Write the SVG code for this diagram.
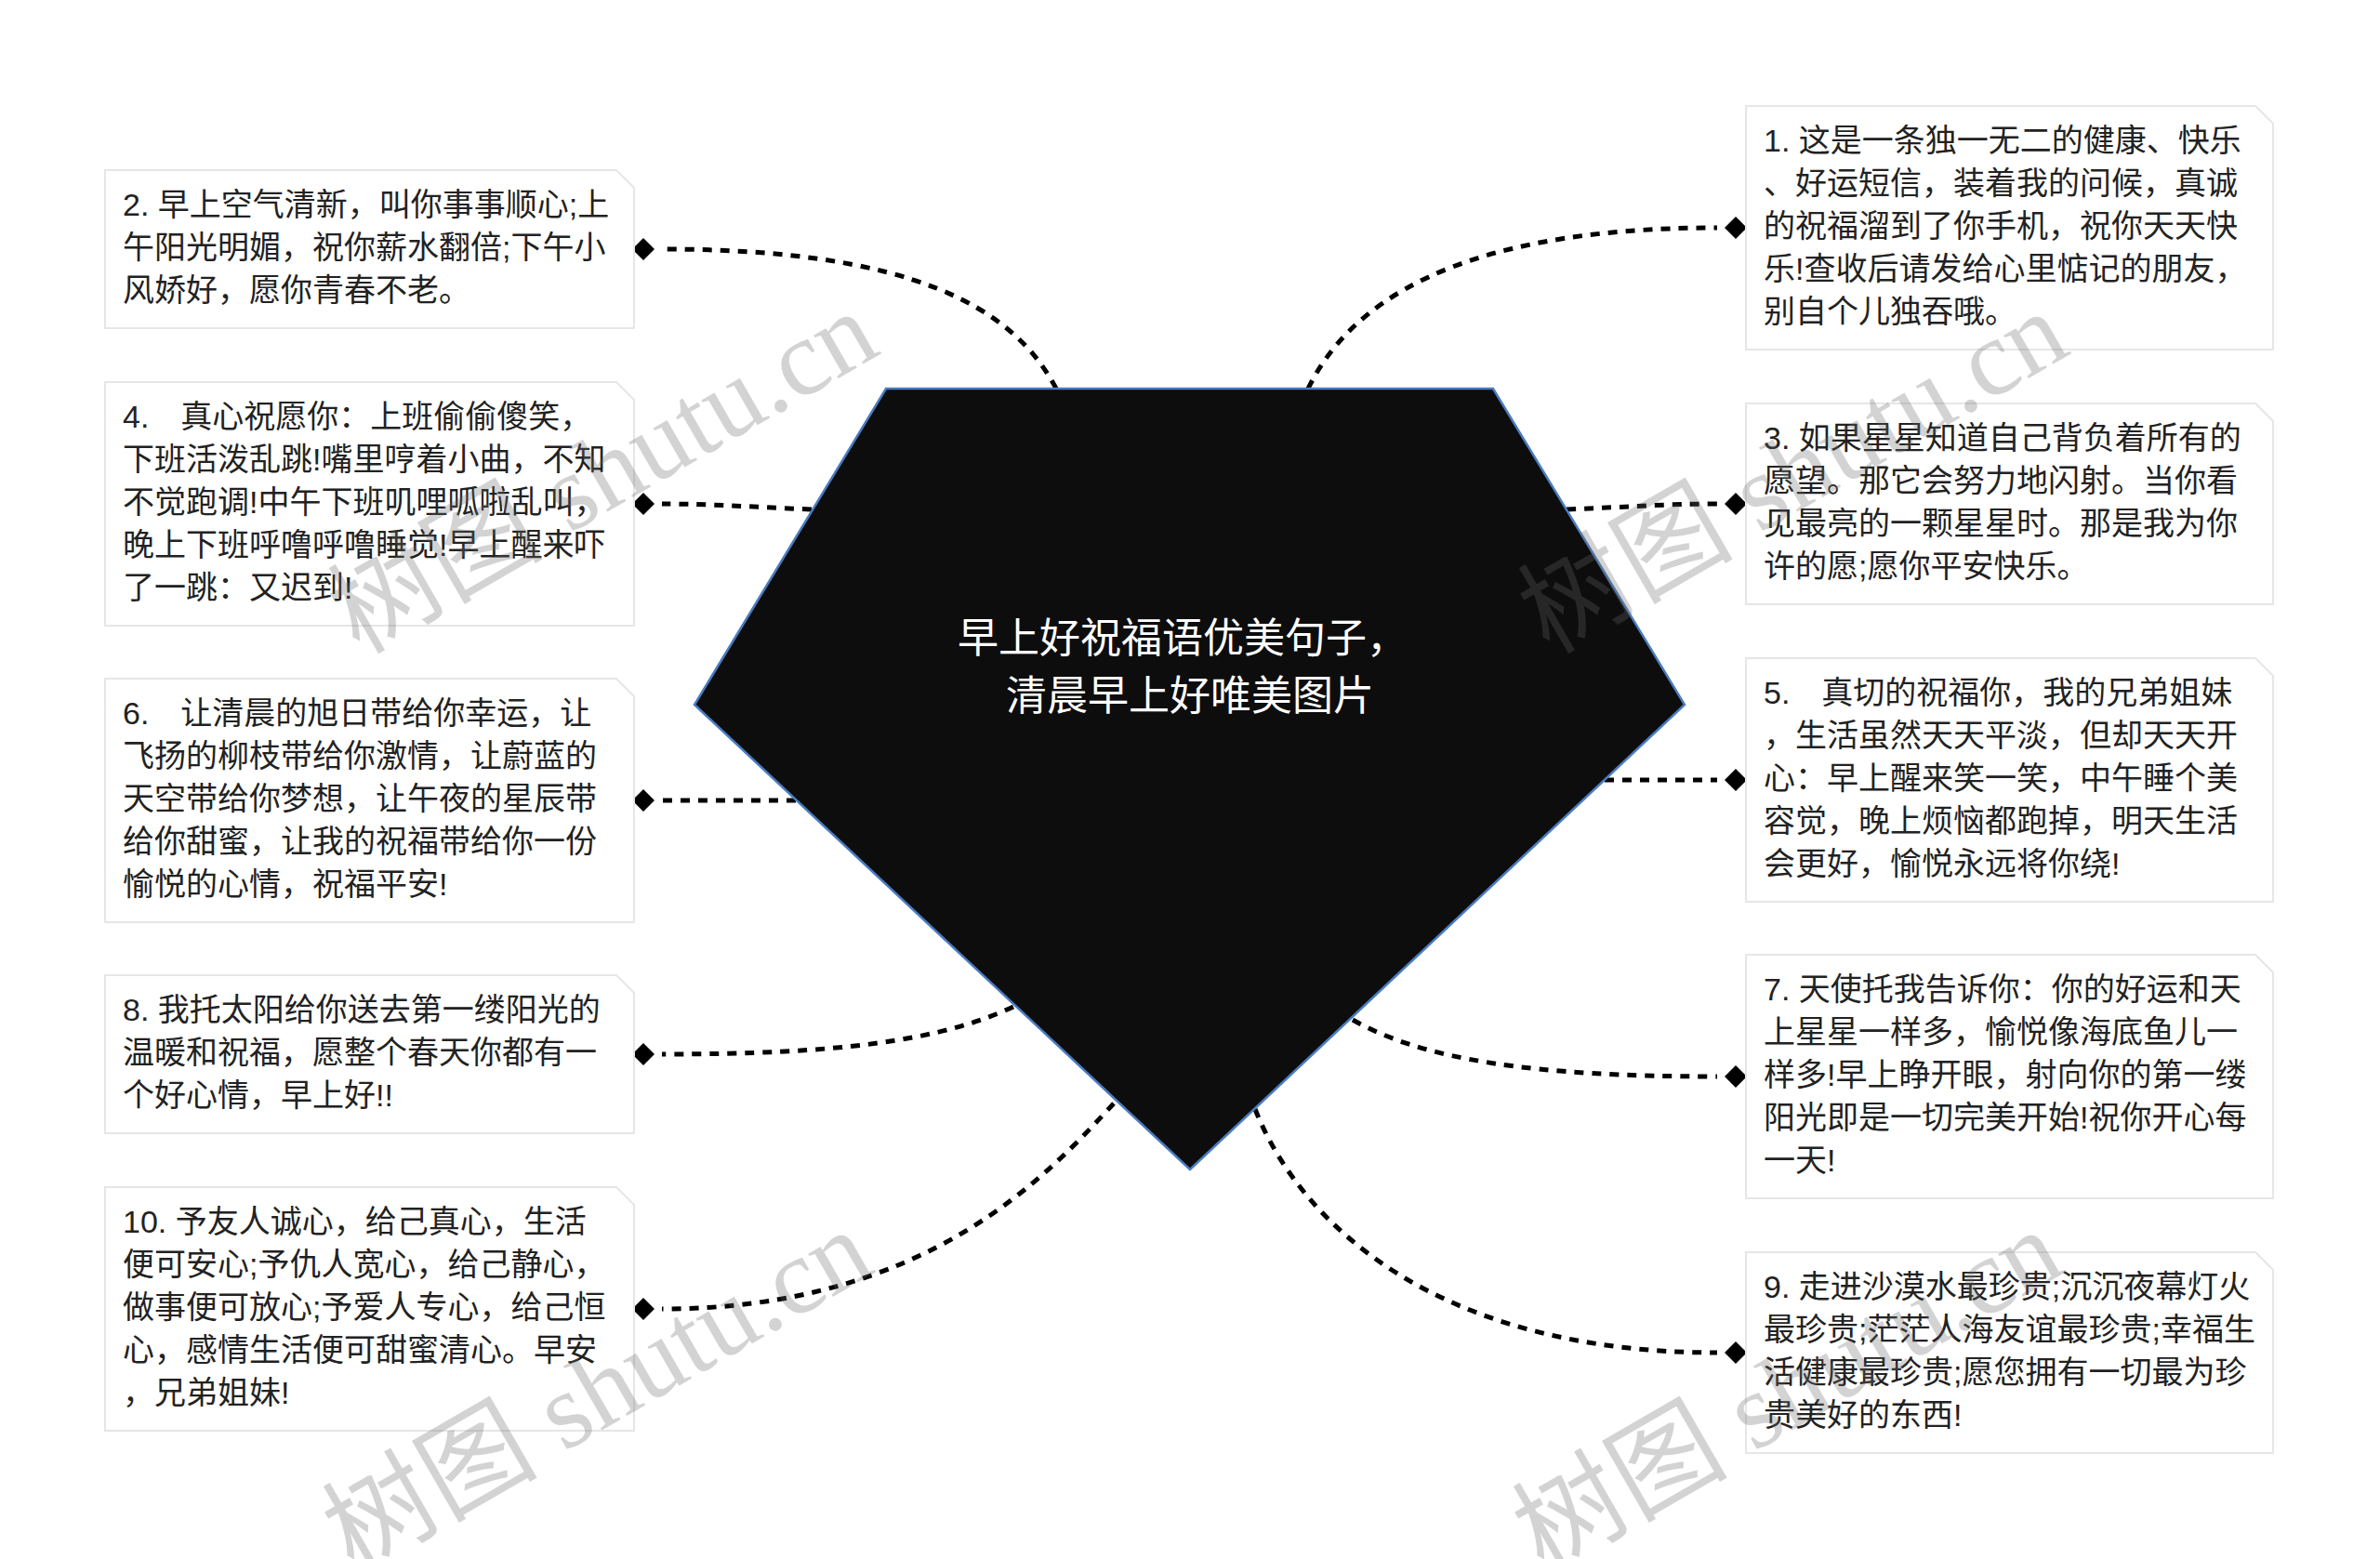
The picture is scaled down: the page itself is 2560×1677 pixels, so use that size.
<svg xmlns="http://www.w3.org/2000/svg" width="2560" height="1677" viewBox="0 0 2560 1677">
<defs>
<style>
.box{fill:#ffffff;stroke:#e6e6e6;stroke-width:2}
.t{font-family:"Liberation Sans","Noto Sans CJK SC",sans-serif;font-size:34px;fill:#222222}
.ct{font-family:"Liberation Sans","Noto Sans CJK SC",sans-serif;font-size:44px;fill:#ffffff;text-anchor:middle}
.con{fill:none;stroke:#000000;stroke-width:5;stroke-dasharray:10 9}
.wm{font-family:"Liberation Serif","Noto Sans CJK SC",serif;font-size:116px;fill:#676767;fill-opacity:0.29;text-anchor:middle}
</style>
<path id="dia" d="M0,-12 L12,0 L0,12 L-12,0 Z" fill="#000000"/>
</defs>
<rect x="0" y="0" width="2560" height="1677" fill="#ffffff"/>

<g id="connectors">
<path class="con" d="M1136,418 C1090,330 980,268 712,268"/>
<path class="con" d="M873,548 C820,546 770,542 712,542"/>
<path class="con" d="M856,861 L712,861"/>
<path class="con" d="M1090,1083 C1010,1120 900,1134 712,1134"/>
<path class="con" d="M1198,1187 C1130,1260 1000,1408 712,1408"/>
<path class="con" d="M1407,418 C1450,330 1560,245 1847,245"/>
<path class="con" d="M1685,548 C1740,546 1790,542 1847,542"/>
<path class="con" d="M1726,839 L1847,839"/>
<path class="con" d="M1455,1097 C1530,1140 1650,1158 1847,1158"/>
<path class="con" d="M1350,1193 C1400,1320 1550,1455 1847,1455"/>
<use href="#dia" x="692" y="268"/>
<use href="#dia" x="692" y="542"/>
<use href="#dia" x="692" y="861"/>
<use href="#dia" x="692" y="1134"/>
<use href="#dia" x="692" y="1408"/>
<use href="#dia" x="1867" y="245"/>
<use href="#dia" x="1867" y="542"/>
<use href="#dia" x="1867" y="839"/>
<use href="#dia" x="1867" y="1158"/>
<use href="#dia" x="1867" y="1455"/>
</g>

<g id="root">
<polygon points="953,418 1606,418 1812,758 1280,1258 747,758" fill="#0d0d0d" stroke="#4a7cc0" stroke-width="2.5"/>
<text class="ct" x="1272" y="702">早上好祝福语优美句子，</text>
<text class="ct" x="1280" y="764">清晨早上好唯美图片</text>
</g>

<g id="node2">
<path class="box" d="M113,183 H663 L682,202 V353 H113 Z"/>
<text class="t"><tspan x="132" y="232">2. 早上空气清新，叫你事事顺心;上</tspan><tspan x="132" dy="46">午阳光明媚，祝你薪水翻倍;下午小</tspan><tspan x="132" dy="46">风娇好，愿你青春不老。</tspan></text>
</g>

<g id="node4">
<path class="box" d="M113,411 H663 L682,430 V673 H113 Z"/>
<text class="t"><tspan x="132" y="460">4.　真心祝愿你：上班偷偷傻笑，</tspan><tspan x="132" dy="46">下班活泼乱跳!嘴里哼着小曲，不知</tspan><tspan x="132" dy="46">不觉跑调!中午下班叽哩呱啦乱叫，</tspan><tspan x="132" dy="46">晚上下班呼噜呼噜睡觉!早上醒来吓</tspan><tspan x="132" dy="46">了一跳：又迟到!</tspan></text>
</g>

<g id="node6">
<path class="box" d="M113,730 H663 L682,749 V992 H113 Z"/>
<text class="t"><tspan x="132" y="779">6.　让清晨的旭日带给你幸运，让</tspan><tspan x="132" dy="46">飞扬的柳枝带给你激情，让蔚蓝的</tspan><tspan x="132" dy="46">天空带给你梦想，让午夜的星辰带</tspan><tspan x="132" dy="46">给你甜蜜，让我的祝福带给你一份</tspan><tspan x="132" dy="46">愉悦的心情，祝福平安!</tspan></text>
</g>

<g id="node8">
<path class="box" d="M113,1049 H663 L682,1068 V1219 H113 Z"/>
<text class="t"><tspan x="132" y="1098">8. 我托太阳给你送去第一缕阳光的</tspan><tspan x="132" dy="46">温暖和祝福，愿整个春天你都有一</tspan><tspan x="132" dy="46">个好心情，早上好!!</tspan></text>
</g>

<g id="node10">
<path class="box" d="M113,1277 H663 L682,1296 V1539 H113 Z"/>
<text class="t"><tspan x="132" y="1326">10. 予友人诚心，给己真心，生活</tspan><tspan x="132" dy="46">便可安心;予仇人宽心，给己静心，</tspan><tspan x="132" dy="46">做事便可放心;予爱人专心，给己恒</tspan><tspan x="132" dy="46">心，感情生活便可甜蜜清心。早安</tspan><tspan x="132" dy="46">，兄弟姐妹!</tspan></text>
</g>

<g id="node1">
<path class="box" d="M1878,114 H2426 L2445,133 V376 H1878 Z"/>
<text class="t"><tspan x="1897" y="163">1. 这是一条独一无二的健康、快乐</tspan><tspan x="1897" dy="46">、好运短信，装着我的问候，真诚</tspan><tspan x="1897" dy="46">的祝福溜到了你手机，祝你天天快</tspan><tspan x="1897" dy="46">乐!查收后请发给心里惦记的朋友，</tspan><tspan x="1897" dy="46">别自个儿独吞哦。</tspan></text>
</g>

<g id="node3">
<path class="box" d="M1878,434 H2426 L2445,453 V650 H1878 Z"/>
<text class="t"><tspan x="1897" y="483">3. 如果星星知道自己背负着所有的</tspan><tspan x="1897" dy="46">愿望。那它会努力地闪射。当你看</tspan><tspan x="1897" dy="46">见最亮的一颗星星时。那是我为你</tspan><tspan x="1897" dy="46">许的愿;愿你平安快乐。</tspan></text>
</g>

<g id="node5">
<path class="box" d="M1878,708 H2426 L2445,727 V970 H1878 Z"/>
<text class="t"><tspan x="1897" y="757">5.　真切的祝福你，我的兄弟姐妹</tspan><tspan x="1897" dy="46">，生活虽然天天平淡，但却天天开</tspan><tspan x="1897" dy="46">心：早上醒来笑一笑，中午睡个美</tspan><tspan x="1897" dy="46">容觉，晚上烦恼都跑掉，明天生活</tspan><tspan x="1897" dy="46">会更好，愉悦永远将你绕!</tspan></text>
</g>

<g id="node7">
<path class="box" d="M1878,1027 H2426 L2445,1046 V1289 H1878 Z"/>
<text class="t"><tspan x="1897" y="1076">7. 天使托我告诉你：你的好运和天</tspan><tspan x="1897" dy="46">上星星一样多，愉悦像海底鱼儿一</tspan><tspan x="1897" dy="46">样多!早上睁开眼，射向你的第一缕</tspan><tspan x="1897" dy="46">阳光即是一切完美开始!祝你开心每</tspan><tspan x="1897" dy="46">一天!</tspan></text>
</g>

<g id="node9">
<path class="box" d="M1878,1347 H2426 L2445,1366 V1563 H1878 Z"/>
<text class="t"><tspan x="1897" y="1396">9. 走进沙漠水最珍贵;沉沉夜幕灯火</tspan><tspan x="1897" dy="46">最珍贵;茫茫人海友谊最珍贵;幸福生</tspan><tspan x="1897" dy="46">活健康最珍贵;愿您拥有一切最为珍</tspan><tspan x="1897" dy="46">贵美好的东西!</tspan></text>
</g>

<g id="watermark">
<text class="wm" transform="translate(668,542) rotate(-30)">树图 shutu.cn</text>
<text class="wm" transform="translate(1948,542) rotate(-30)">树图 shutu.cn</text>
<text class="wm" transform="translate(662,1530) rotate(-30)">树图 shutu.cn</text>
<text class="wm" transform="translate(1942,1530) rotate(-30)">树图 shutu.cn</text>
</g>
</svg>
